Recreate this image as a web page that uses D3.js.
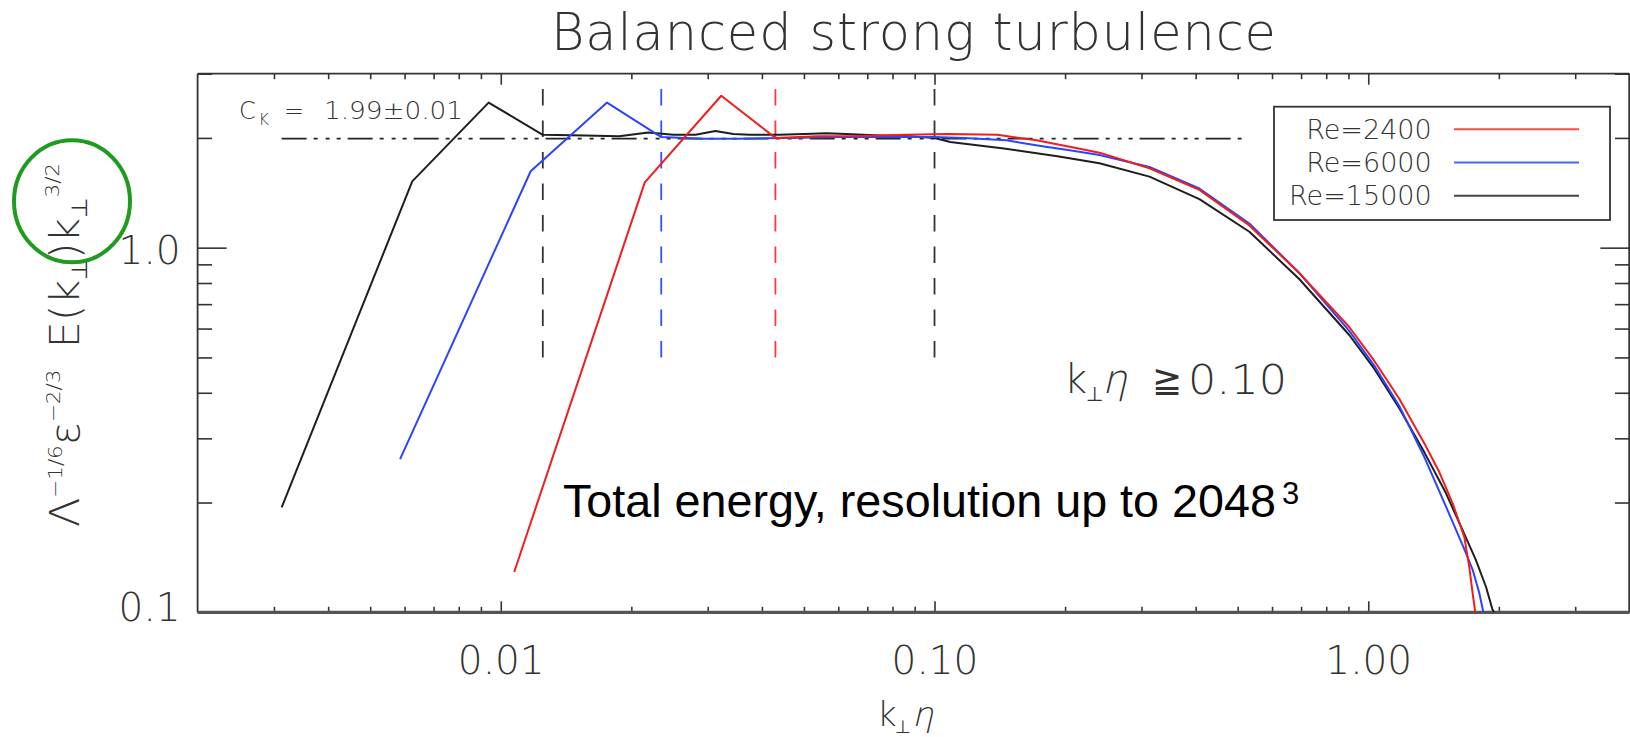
<!DOCTYPE html>
<html>
<head>
<meta charset="utf-8">
<script src="https://cdn.jsdelivr.net/npm/d3@7"></script>
<style>
  html, body { margin: 0; padding: 0; background: #fff; }
  svg { display: block; }
</style>
</head>
<body>
<svg id="chart" width="1630" height="737"></svg>
<script>
// ---- Compensated spectra: k_perp*eta and Lambda^-1/6 eps^-2/3 E(k) k^3/2 ----
const re2400K = [0.01074, 0.02148, 0.03223, 0.04297, 0.0537, 0.0644, 0.0859, 0.1074, 0.1396, 0.1718,
                 0.2148, 0.240, 0.313, 0.408, 0.532, 0.694, 0.904, 1.033, 1.179, 1.346,
                 1.458, 1.565, 1.665, 1.710, 1.740, 1.765];
const re2400E = [0.129, 1.51, 2.61, 2.00, 2.02, 2.02, 2.04, 2.05, 2.04, 1.97,
                 1.87, 1.822, 1.651, 1.440, 1.151, 0.851, 0.606, 0.489, 0.385, 0.291,
                 0.2425, 0.199, 0.161, 0.133, 0.113, 0.100];

const re6000K = [0.00586, 0.01172, 0.01758, 0.02344, 0.0293, 0.0352, 0.0469, 0.0586, 0.0762, 0.0996,
                 0.1172, 0.1465, 0.1758, 0.205, 0.240, 0.313, 0.408, 0.532, 0.694, 0.904,
                 1.033, 1.179, 1.346, 1.537, 1.665, 1.740, 1.803, 1.842];
const re6000E = [0.263, 1.62, 2.50, 2.01, 1.99, 1.99, 2.00, 2.01, 2.01, 2.01,
                 2.00, 1.97, 1.90, 1.85, 1.796, 1.664, 1.453, 1.165, 0.852, 0.591,
                 0.474, 0.368, 0.267, 0.186, 0.149, 0.131, 0.113, 0.100];

const re15000K = [0.003125, 0.00625, 0.009375, 0.0125, 0.015625, 0.01875, 0.021875, 0.025, 0.028125, 0.03125,
                  0.034375, 0.0375, 0.04375, 0.05, 0.0563, 0.0625, 0.075, 0.0875, 0.1, 0.1087,
                  0.1445, 0.192, 0.240, 0.313, 0.408, 0.532, 0.694, 0.904, 1.033, 1.179,
                  1.346, 1.511, 1.650, 1.771, 1.868, 1.935, 1.952];
const re15000E = [0.194, 1.52, 2.50, 2.04, 2.03, 2.02, 2.07, 2.04, 2.04, 2.09,
                  2.05, 2.04, 2.04, 2.05, 2.06, 2.05, 2.03, 2.02, 2.00, 1.95,
                  1.87, 1.78, 1.704, 1.566, 1.358, 1.106, 0.819, 0.576, 0.465, 0.363,
                  0.275, 0.212, 0.168, 0.139, 0.1175, 0.1015, 0.100];

const seriesNames   = ["Re=2400", "Re=6000", "Re=15000"];
const seriesColors  = ["#f01d1d", "#2b45ff", "#1e1e1e"];
const legendColors  = ["#ff4a4a", "#4466ff", "#444444"];

// dissipation-range markers (vertical dashed lines)
const cutoffK      = [0.0125, 0.02344, 0.04297, 0.1];
const cutoffColors = ["#333333", "#3050ff", "#ff3a3a", "#333333"];
const cutoffFloor  = 0.5;

// Kolmogorov constant level
const ckValue = 1.99;
const ckError = 0.01;
const ckSpan  = [0.003125, 0.526];

// axis ticks
const xMajorTicks = [0.01, 0.1, 1];
const xTickLabels = ["0.01", "0.10", "1.00"];
const xMinorTicks = [0.003, 0.004, 0.005, 0.006, 0.007, 0.008, 0.009,
                     0.02, 0.03, 0.04, 0.05, 0.06, 0.07, 0.08, 0.09,
                     0.2, 0.3, 0.4, 0.5, 0.6, 0.7, 0.8, 0.9, 2, 3];
const yMajorTicks = [0.1, 1];
const yTickLabels = ["0.1", "1.0"];
const yMinorTicks = [0.2, 0.3, 0.4, 0.5, 0.6, 0.7, 0.8, 0.9, 2, 3];

// ---- drawing ----
const FONT = "'DejaVu Sans', 'Liberation Sans', sans-serif";
const INK = "#333";
const svg = d3.select("#chart");

const x = d3.scaleLog().domain([0.002, 4]).range([197.6, 1629.4]);
const y = d3.scaleLog().domain([0.1, 3]).range([612.3, 73.7]);
const [x0, x1] = x.range();
const [y0, y1] = y.range();

svg.append("defs").append("clipPath").attr("id", "plotClip")
  .append("rect").attr("x", x0).attr("y", y1).attr("width", x1 - x0).attr("height", y0 - y1);

// title
svg.append("text")
  .attr("x", (x0 + x1) / 2).attr("y", 50)
  .attr("text-anchor", "middle")
  .attr("font-family", FONT).attr("font-weight", 300).attr("font-size", 51)
  .attr("fill", INK)
  .attr("textLength", 725).attr("lengthAdjust", "spacing")
  .text("Balanced strong turbulence");

// axes
function styleAxis(g) {
  g.select(".domain").remove();
  g.selectAll(".tick line").attr("stroke", INK).attr("stroke-width", 1.6);
  g.selectAll(".tick text").attr("font-family", FONT).attr("font-weight", 300)
    .attr("fill", INK).attr("font-size", 39);
}

svg.append("g").attr("transform", `translate(0,${y0})`)
  .call(d3.axisBottom(x).tickValues(xMajorTicks).tickSize(-11).tickPadding(34)
        .tickFormat((d, i) => xTickLabels[i]))
  .call(styleAxis);
svg.append("g").attr("transform", `translate(0,${y0})`)
  .call(d3.axisBottom(x).tickValues(xMinorTicks).tickSize(-5.5).tickFormat(""))
  .call(styleAxis);
svg.append("g").attr("transform", `translate(0,${y1})`)
  .call(d3.axisTop(x).tickValues(xMajorTicks).tickSize(-11).tickFormat(""))
  .call(styleAxis);
svg.append("g").attr("transform", `translate(0,${y1})`)
  .call(d3.axisTop(x).tickValues(xMinorTicks).tickSize(-5.5).tickFormat(""))
  .call(styleAxis);

svg.append("g").attr("transform", `translate(${x0},0)`)
  .call(d3.axisLeft(y).tickValues(yMajorTicks).tickSize(-29).tickPadding(17)
        .tickFormat((d, i) => yTickLabels[i]))
  .call(styleAxis)
  .call(g => g.selectAll(".tick text")
    .attr("dy", d => d === yMajorTicks[0] ? "0.2em" : "0.4em"));
svg.append("g").attr("transform", `translate(${x0},0)`)
  .call(d3.axisLeft(y).tickValues(yMinorTicks).tickSize(-14.5).tickFormat(""))
  .call(styleAxis);
svg.append("g").attr("transform", `translate(${x1},0)`)
  .call(d3.axisRight(y).tickValues(yMajorTicks).tickSize(-29).tickFormat(""))
  .call(styleAxis);
svg.append("g").attr("transform", `translate(${x1},0)`)
  .call(d3.axisRight(y).tickValues(yMinorTicks).tickSize(-14.5).tickFormat(""))
  .call(styleAxis);

// frame
const frame = svg.append("g").attr("stroke", INK).attr("fill", "none");
frame.append("line").attr("x1", x0).attr("x2", x0).attr("y1", y1).attr("y2", y0).attr("stroke-width", 1.8);
frame.append("line").attr("x1", x0).attr("x2", x1).attr("y1", y1).attr("y2", y1).attr("stroke-width", 1.8);
frame.append("line").attr("x1", x1 - 0.2).attr("x2", x1 - 0.2).attr("y1", y1).attr("y2", y0).attr("stroke-width", 1.8);
frame.append("line").attr("x1", x0).attr("x2", x1).attr("y1", y0).attr("y2", y0)
  .attr("stroke", "#555").attr("stroke-width", 3.2);

const plot = svg.append("g").attr("clip-path", "url(#plotClip)");

// vertical dashed cutoff markers
plot.selectAll("line.cutoff").data(cutoffK).join("line")
  .attr("class", "cutoff")
  .attr("x1", d => x(d)).attr("x2", d => x(d))
  .attr("y1", y(cutoffFloor)).attr("y2", y1)
  .attr("stroke", (d, i) => cutoffColors[i])
  .attr("stroke-width", 1.8)
  .attr("stroke-dasharray", "16.5 15");

// C_K reference level (dash-dot-dot-dot)
plot.append("line")
  .attr("x1", x(ckSpan[0])).attr("x2", x(ckSpan[1]))
  .attr("y1", y(ckValue)).attr("y2", y(ckValue))
  .attr("stroke", "#222").attr("stroke-width", 1.8)
  .attr("stroke-dasharray", "25 7 4 8 4 7 4 7");

// spectra
const line = d3.line().x(d => x(d[0])).y(d => y(d[1]));
const spectra = [
  d3.zip(re15000K, re15000E),
  d3.zip(re6000K, re6000E),
  d3.zip(re2400K, re2400E)
];
const spectraColors = [seriesColors[2], seriesColors[1], seriesColors[0]];
plot.selectAll("path.spec").data(spectra).join("path")
  .attr("class", "spec")
  .attr("d", line)
  .attr("fill", "none")
  .attr("stroke", (d, i) => spectraColors[i])
  .attr("stroke-width", 2)
  .attr("stroke-linejoin", "round");

// C_K label
const ckG = svg.append("g").attr("font-family", FONT).attr("font-weight", 300).attr("fill", INK);
ckG.append("text").attr("x", 239).attr("y", 118.5).attr("font-size", 24).text("C");
ckG.append("text").attr("x", 258.5).attr("y", 125).attr("font-size", 16).text("K");
ckG.append("text").attr("x", 284).attr("y", 118.5).attr("font-size", 24).text("=");
ckG.append("text").attr("x", 324).attr("y", 118.5).attr("font-size", 24)
  .attr("textLength", 139).attr("lengthAdjust", "spacingAndGlyphs")
  .text(`${ckValue.toFixed(2)}\u00b1${ckError.toFixed(2)}`);

// legend
const lg = svg.append("g");
lg.append("rect").attr("x", 1274).attr("y", 106.7).attr("width", 336).attr("height", 113.3)
  .attr("fill", "#fff").attr("stroke", INK).attr("stroke-width", 1.8);
seriesNames.forEach((name, i) => {
  lg.append("text").attr("x", 1431.7).attr("y", 139.3 + i * 32.9)
    .attr("text-anchor", "end")
    .attr("font-family", FONT).attr("font-weight", 300).attr("font-size", 27).attr("fill", INK)
    .text(name);
  lg.append("line").attr("x1", 1454).attr("x2", 1579)
    .attr("y1", 129.3 + i * 33.2).attr("y2", 129.3 + i * 33.2)
    .attr("stroke", legendColors[i]).attr("stroke-width", 2);
});

// slanted Greek eta drawn with the light upright face
function eta(g, px, py, size) {
  g.append("text")
    .attr("transform", `translate(${px},${py}) skewX(-13)`)
    .attr("font-size", size)
    .text("\u03b7");
}

// k_perp eta >= threshold annotation
const ann = svg.append("g").attr("font-family", FONT).attr("font-weight", 300).attr("fill", INK);
ann.append("text").attr("x", 1064).attr("y", 392.7).attr("font-size", 40).text("k");
ann.append("text").attr("x", 1086).attr("y", 401).attr("font-size", 20).text("\u22a5");
eta(ann, 1102, 392.7, 40);
ann.append("text").attr("x", 1152).attr("y", 392).attr("font-size", 36).text("\u2267");
ann.append("text").attr("x", 1188).attr("y", 393.5).attr("font-size", 41)
  .attr("textLength", 99).attr("lengthAdjust", "spacingAndGlyphs")
  .text(d3.format(".2f")(cutoffK[3]));

// resolution note
svg.append("text").attr("x", 563).attr("y", 516.7)
  .attr("font-family", "'Liberation Sans', Arial, sans-serif").attr("font-size", 46.7).attr("fill", "#000")
  .text("Total energy, resolution up to 2048");
svg.append("text").attr("x", 1282).attr("y", 504)
  .attr("font-family", "'Liberation Sans', Arial, sans-serif").attr("font-size", 31).attr("fill", "#000")
  .text("3");

// x-axis title
const xt = svg.append("g").attr("font-family", FONT).attr("font-weight", 300).attr("fill", INK);
xt.append("text").attr("x", 877).attr("y", 726).attr("font-size", 34).text("k");
xt.append("text").attr("x", 895).attr("y", 733).attr("font-size", 18).text("\u22a5");
eta(xt, 912, 726, 34);

// y-axis title (rotated)
const yl = svg.append("text")
  .attr("transform", "translate(79,527) rotate(-90)")
  .attr("font-family", FONT).attr("font-weight", 300).attr("font-size", 40).attr("fill", INK)
  .attr("textLength", 364).attr("lengthAdjust", "spacingAndGlyphs");
yl.append("tspan").text("\u039b");
yl.append("tspan").attr("font-size", 20).attr("dy", -17).text("\u22121/6");
yl.append("tspan").attr("dy", 17).text("\u03b5");
yl.append("tspan").attr("font-size", 20).attr("dy", -19).text("\u22122/3");
yl.append("tspan").attr("dy", 19).text("\u2002E(k");
yl.append("tspan").attr("font-size", 22).attr("dy", 8).text("\u22a5");
yl.append("tspan").attr("dy", -8).text(")k");
yl.append("tspan").attr("font-size", 22).attr("dy", 8).text("\u22a5");
yl.append("tspan").attr("font-size", 20).attr("dy", -28).text("3/2");

// highlight ring around the k^3/2 factor
svg.append("ellipse")
  .attr("cx", 72).attr("cy", 201.3).attr("rx", 58).attr("ry", 61)
  .attr("fill", "none").attr("stroke", "#1f9b1f").attr("stroke-width", 4);
</script>
</body>
</html>
